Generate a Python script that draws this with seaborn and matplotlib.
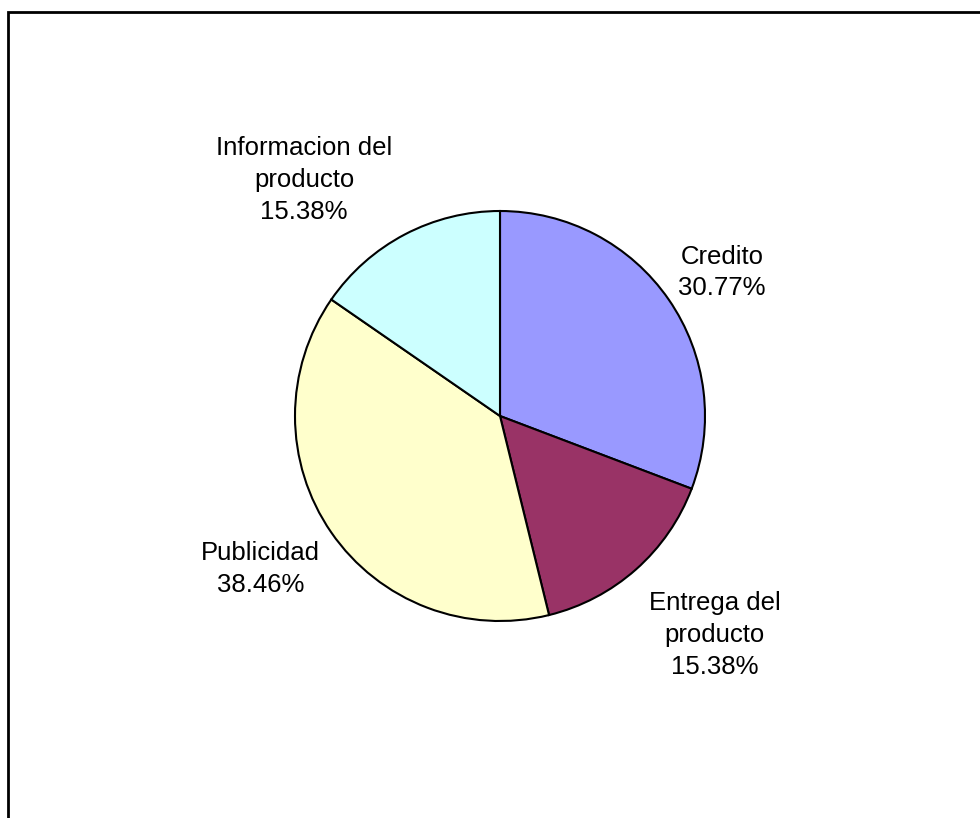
import matplotlib
matplotlib.use("Agg")
import matplotlib.pyplot as plt
import seaborn as sns
from matplotlib.patches import Rectangle

sns.set_theme(style="white")
plt.rcParams["font.family"] = ["Liberation Sans", "DejaVu Sans"]

# Survey shares by category
categories = ["Credito", "Entrega del\nproducto", "Publicidad", "Informacion del\nproducto"]
values = [30.77, 15.38, 38.46, 15.38]
colors = ["#9999FF", "#993366", "#FFFFCC", "#CCFFFF"]

# Label anchor points (data units, pie radius = 1)
label_xy = [(1.083, 0.700), (1.046, -1.066), (-1.168, -0.746), (-0.956, 1.150)]

W, H = 980, 818
fig = plt.figure(figsize=(W / 100, H / 100), dpi=100)
fig.patch.set_facecolor("white")

# Frame around the chart area
fig.patches.append(Rectangle((8 / W, -0.05), 1.2, 1 - 12 / H + 0.05,
                             transform=fig.transFigure, fill=False,
                             edgecolor="black", linewidth=2))

cx, cy, R = 500, 416, 205
half = 250
ax = fig.add_axes([(cx - half) / W, (H - cy - half) / H, 2 * half / W, 2 * half / H])
ax.pie(values, colors=colors, startangle=90, counterclock=False, radius=1,
       wedgeprops=dict(edgecolor="black", linewidth=1.5))
lim = half / R
ax.set_xlim(-lim, lim)
ax.set_ylim(-lim, lim)
ax.set_aspect("equal")
ax.axis("off")

for name, v, (x, y) in zip(categories, values, label_xy):
    ax.text(x, y, f"{name}\n{v:.2f}%", ha="center", va="center",
            fontsize=18.5, color="black", linespacing=1.42)

fig.savefig("out.png", dpi=100, facecolor="white")
